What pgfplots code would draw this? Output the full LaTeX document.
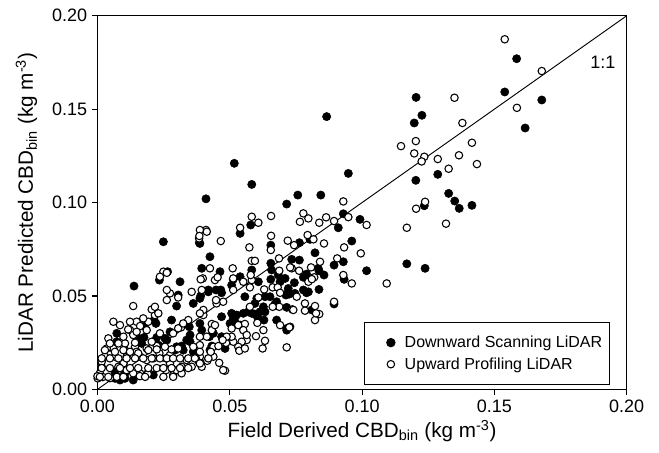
\documentclass[border=0pt]{standalone}
\usepackage{pgfplots}
\pgfplotsset{compat=1.18}
\usepackage{fontspec}
\setmainfont{Liberation Sans}
\begin{document}
\begin{tikzpicture}
\begin{axis}[
  name=ax,
  scale only axis,
  width=396.9pt, height=280.2pt,
  xmin=0, xmax=0.2, ymin=0, ymax=0.2,
  xtick={0,0.05,0.1,0.15,0.2}, ytick={0,0.05,0.1,0.15,0.2},
  xticklabels={0.00,0.05,0.10,0.15,0.20},
  yticklabels={0.00,0.05,0.10,0.15,0.20},
  tick align=outside, tick pos=left,
  major tick length=4.2pt,
  axis line style={line width=0.9pt},
  every tick/.style={line width=0.9pt, black},
  ticklabel style={font=\fontsize{13.5}{16}\selectfont},
  /pgf/number format/assume math mode=true,
  xlabel={Field Derived CBD\textsubscript{bin} (kg m\textsuperscript{-3})},
  ylabel={LiDAR Predicted CBD\textsubscript{bin} (kg m\textsuperscript{-3})},
  label style={font=\fontsize{15.5}{18}\selectfont},
  xlabel style={at={(axis description cs:0.5,-0.1277)}, anchor=base},
  ylabel style={at={(axis description cs:-0.105,0.5)}, anchor=south, rotate=0},
  legend style={at={(axis description cs:0.969,0.012)}, anchor=south east,
    draw=black, line width=0.8pt, font=\fontsize{12}{14}\selectfont,
    inner xsep=3.7pt, inner ysep=8pt, row sep=2pt},
  legend cell align=left,
  legend image code/.code={\path (0pt,0pt) (23.6pt,0pt); \draw[#1, line width=0.8pt] plot coordinates {(15.6pt,0pt)};},
]
\addplot[only marks, mark=*, mark size=3.1pt, draw=black, fill=black] table {
x y
0.0410 0.1020
0.0517 0.1210
0.0583 0.1097
0.0579 0.0880
0.0715 0.0992
0.0757 0.1040
0.0844 0.1040
0.0866 0.1460
0.1584 0.1770
0.1539 0.1592
0.1679 0.1549
0.1616 0.1399
0.1204 0.1563
0.1226 0.1467
0.1197 0.1426
0.1286 0.1151
0.1203 0.1119
0.0948 0.1156
0.1327 0.1049
0.1350 0.1008
0.1367 0.0969
0.1415 0.0985
0.1235 0.0983
0.0929 0.0940
0.0992 0.0910
0.0910 0.0865
0.0961 0.0794
0.0929 0.0683
0.0894 0.0665
0.1169 0.0672
0.1238 0.0648
0.1017 0.0635
0.0932 0.0589
0.0894 0.0457
0.0803 0.0803
0.0763 0.0785
0.0822 0.0731
0.0734 0.0696
0.0763 0.0692
0.0837 0.0635
0.0856 0.0612
0.0709 0.0594
0.0744 0.0571
0.0778 0.0600
0.0721 0.0522
0.0778 0.0532
0.0797 0.0522
0.0837 0.0535
0.0810 0.0425
0.0715 0.0317
0.0539 0.0835
0.0655 0.0772
0.0425 0.0710
0.0387 0.0781
0.0655 0.0675
0.0834 0.0648
0.0463 0.0630
0.0394 0.0648
0.0539 0.0603
0.0507 0.0558
0.0608 0.0576
0.0658 0.0639
0.0683 0.0612
0.0690 0.0576
0.0652 0.0496
0.0633 0.0496
0.0602 0.0487
0.0721 0.0540
0.0725 0.0510
0.0746 0.0514
0.0790 0.0517
0.0671 0.0457
0.0627 0.0442
0.0614 0.0415
0.0604 0.0389
0.0583 0.0407
0.0551 0.0407
0.0526 0.0398
0.0507 0.0407
0.0513 0.0380
0.0469 0.0389
0.0557 0.0496
0.0595 0.0460
0.0501 0.0353
0.0520 0.0362
0.0629 0.0371
0.0677 0.0371
0.0715 0.0326
0.0482 0.0219
0.0469 0.0282
0.0438 0.0300
0.0394 0.0317
0.0249 0.0790
0.0385 0.0785
0.0790 0.0617
0.0712 0.0505
0.0677 0.0469
0.0715 0.0439
0.0633 0.0415
0.0595 0.0403
0.0570 0.0415
0.0513 0.0589
0.0469 0.0517
0.0539 0.0344
0.0423 0.0282
0.0432 0.0232
0.0387 0.0353
0.0350 0.0255
0.0318 0.0232
0.0350 0.0291
0.0347 0.0335
0.0299 0.0228
0.0280 0.0371
0.0262 0.0264
0.0312 0.0576
0.0299 0.0446
0.0390 0.0500
0.0234 0.0585
0.0221 0.0353
0.0214 0.0371
0.0224 0.0278
0.0138 0.0553
0.0177 0.0339
0.0176 0.0278
0.0150 0.0278
0.0104 0.0086
0.0066 0.0094
0.0073 0.0300
0.0047 0.0228
0.0167 0.0246
0.0255 0.0273
0.0274 0.0308
0.0337 0.0264
0.0324 0.0210
0.0085 0.0050
0.0211 0.0077
0.0066 0.0059
0.0104 0.0059
0.0135 0.0050
0.0098 0.0139
0.0073 0.0255
0.0230 0.0237
0.0305 0.0505
0.0362 0.0460
0.0419 0.0522
0.0448 0.0532
0.0425 0.0210
0.0362 0.0201
0.0293 0.0210
0.0583 0.0639
0.0655 0.0589
0.0466 0.0532
0.0419 0.0532
0.0387 0.0487
0.0265 0.0630
};
\addlegendentry{Downward Scanning LiDAR}
\addplot[only marks, mark=*, mark size=2.8pt, draw=black, fill=white, mark options={line width=0.8pt}] table {
x y
0.0583 0.0924
0.0539 0.0865
0.0608 0.0892
0.0656 0.0928
0.0410 0.0853
0.0765 0.0897
0.0778 0.0942
0.0797 0.0915
0.0838 0.0892
0.0864 0.0921
0.1539 0.1874
0.1679 0.1704
0.1585 0.1507
0.1349 0.1561
0.1379 0.1426
0.1203 0.1329
0.1147 0.1302
0.1197 0.1263
0.1235 0.1245
0.1225 0.1220
0.1415 0.1320
0.1366 0.1253
0.1286 0.1233
0.1434 0.1206
0.1327 0.1181
0.1238 0.1004
0.1204 0.0967
0.0929 0.1006
0.0948 0.0922
0.0894 0.0901
0.1017 0.0880
0.1169 0.0865
0.1317 0.0887
0.0932 0.0760
0.0995 0.0728
0.0906 0.0701
0.0929 0.0612
0.0961 0.0567
0.1093 0.0567
0.0894 0.0469
0.0794 0.0826
0.0719 0.0796
0.0743 0.0772
0.0856 0.0781
0.0841 0.0683
0.0734 0.0648
0.0762 0.0635
0.0807 0.0653
0.0819 0.0600
0.0797 0.0576
0.0810 0.0590
0.0753 0.0496
0.0736 0.0428
0.0784 0.0460
0.0784 0.0421
0.0822 0.0446
0.0838 0.0403
0.0822 0.0371
0.0728 0.0335
0.0715 0.0225
0.0656 0.0822
0.0655 0.0746
0.0574 0.0760
0.0816 0.0803
0.0466 0.0794
0.0413 0.0844
0.0387 0.0853
0.0583 0.0688
0.0595 0.0688
0.0686 0.0701
0.0511 0.0648
0.0444 0.0585
0.0398 0.0594
0.0513 0.0594
0.0513 0.0532
0.0551 0.0576
0.0583 0.0585
0.0576 0.0546
0.0630 0.0535
0.0662 0.0546
0.0681 0.0546
0.0740 0.0425
0.0687 0.0442
0.0662 0.0442
0.0475 0.0469
0.0576 0.0442
0.0557 0.0350
0.0532 0.0344
0.0507 0.0326
0.0604 0.0356
0.0690 0.0344
0.0725 0.0332
0.0599 0.0285
0.0633 0.0260
0.0624 0.0219
0.0564 0.0264
0.0545 0.0255
0.0532 0.0228
0.0536 0.0207
0.0513 0.0255
0.0507 0.0282
0.0486 0.0249
0.0438 0.0228
0.0432 0.0350
0.0413 0.0282
0.0438 0.0175
0.0415 0.0153
0.0460 0.0142
0.0482 0.0100
0.0394 0.0121
0.0387 0.0175
0.0400 0.0398
0.0384 0.0808
0.0728 0.0653
0.0826 0.0407
0.0690 0.0517
0.0627 0.0317
0.0608 0.0492
0.0551 0.0317
0.0564 0.0291
0.0557 0.0219
0.0488 0.0282
0.0457 0.0232
0.0473 0.0264
0.0432 0.0317
0.0387 0.0282
0.0387 0.0237
0.0387 0.0201
0.0343 0.0371
0.0316 0.0332
0.0362 0.0228
0.0385 0.0142
0.0372 0.0166
0.0337 0.0157
0.0356 0.0121
0.0318 0.0121
0.0419 0.0166
0.0428 0.0201
0.0400 0.0425
0.0387 0.0407
0.0286 0.0300
0.0274 0.0184
0.0259 0.0103
0.0286 0.0077
0.0299 0.0103
0.0318 0.0086
0.0274 0.0139
0.0259 0.0166
0.0356 0.0522
0.0390 0.0589
0.0305 0.0492
0.0274 0.0514
0.0262 0.0478
0.0249 0.0630
0.0236 0.0603
0.0262 0.0624
0.0217 0.0398
0.0236 0.0300
0.0224 0.0232
0.0205 0.0255
0.0186 0.0219
0.0186 0.0317
0.0192 0.0362
0.0173 0.0380
0.0135 0.0446
0.0205 0.0428
0.0217 0.0442
0.0148 0.0362
0.0161 0.0339
0.0123 0.0362
0.0123 0.0317
0.0135 0.0291
0.0142 0.0228
0.0148 0.0201
0.0161 0.0175
0.0186 0.0157
0.0211 0.0166
0.0234 0.0193
0.0192 0.0094
0.0161 0.0086
0.0135 0.0086
0.0110 0.0103
0.0098 0.0139
0.0110 0.0175
0.0104 0.0210
0.0104 0.0246
0.0079 0.0121
0.0066 0.0175
0.0060 0.0219
0.0060 0.0362
0.0085 0.0344
0.0041 0.0273
0.0035 0.0219
0.0028 0.0175
0.0016 0.0121
0.0009 0.0086
0.0016 0.0148
0.0001 0.0059
0.0020 0.0066
0.0047 0.0060
0.0000 0.0071
0.0160 0.0071
0.0190 0.0082
0.0116 0.0321
0.0148 0.0308
0.0098 0.0282
0.0047 0.0246
0.0079 0.0246
0.0142 0.0250
0.0305 0.0327
0.0324 0.0353
0.0028 0.0210
0.0066 0.0201
0.0098 0.0210
0.0123 0.0201
0.0154 0.0193
0.0192 0.0210
0.0224 0.0214
0.0255 0.0228
0.0280 0.0214
0.0305 0.0219
0.0016 0.0166
0.0047 0.0166
0.0079 0.0166
0.0110 0.0166
0.0142 0.0166
0.0173 0.0166
0.0205 0.0166
0.0236 0.0166
0.0262 0.0166
0.0286 0.0166
0.0312 0.0166
0.0343 0.0166
0.0368 0.0166
0.0016 0.0114
0.0047 0.0114
0.0085 0.0114
0.0123 0.0114
0.0154 0.0114
0.0192 0.0114
0.0224 0.0114
0.0249 0.0114
0.0280 0.0114
0.0312 0.0114
0.0343 0.0114
0.0009 0.0067
0.0041 0.0067
0.0073 0.0067
0.0098 0.0067
0.0180 0.0067
0.0249 0.0067
0.0286 0.0067
0.0230 0.0407
0.0450 0.0460
0.0394 0.0532
0.0444 0.0344
0.0387 0.0139
0.0385 0.0821
0.0425 0.0648
0.0579 0.0612
0.0687 0.0635
0.0454 0.0600
0.0448 0.0478
0.0475 0.0103
0.0262 0.0532
};
\addlegendentry{Upward Profiling LiDAR}
\addplot[black, line width=0.7pt, forget plot] coordinates {(0,0) (0.2,0.2)};
\node[font=\fontsize{13.5}{16}\selectfont] at (axis cs:0.191,0.175) {1:1};
\end{axis}
\path ([xshift=-73.1pt, yshift=-47.0pt]ax.south west) rectangle ([xshift=24.2pt, yshift=11.8pt]ax.north east);
\end{tikzpicture}
\end{document}
